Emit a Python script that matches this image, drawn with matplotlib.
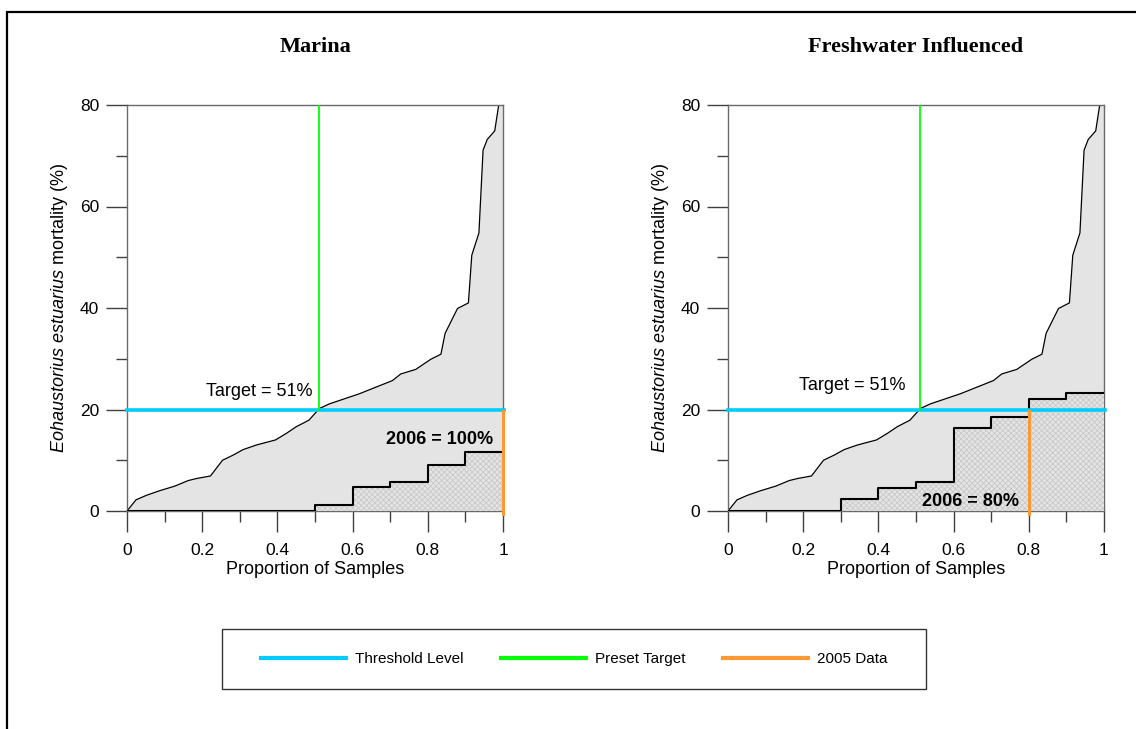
import numpy as np
import matplotlib.pyplot as plt
from matplotlib.lines import Line2D
from matplotlib.patches import Rectangle

plt.rcParams['font.family'] = ['Liberation Sans', 'DejaVu Sans']
plt.rcParams['mathtext.fontset'] = 'custom'
plt.rcParams['mathtext.it'] = 'Liberation Sans:italic'
plt.rcParams['mathtext.rm'] = 'Liberation Sans'
plt.rcParams['hatch.linewidth'] = 0.6

# reference distribution (cumulative proportion vs mortality)
ref_prop = [0, 0.024, 0.052, 0.087, 0.127, 0.163, 0.185, 0.222, 0.254, 0.282,
            0.309, 0.344, 0.395, 0.424, 0.450, 0.484, 0.496, 0.512, 0.538, 0.618,
            0.662, 0.706, 0.728, 0.768, 0.808, 0.835, 0.846, 0.879, 0.908, 0.917,
            0.936, 0.947, 0.958, 0.978, 0.989, 1.0]
ref_mort = [0, 2.2, 3.1, 4.0, 4.9, 6.0, 6.4, 6.9, 10.0, 11.0,
            12.1, 13.0, 14.0, 15.3, 16.6, 17.9, 18.9, 20.2, 21.1, 23.1,
            24.4, 25.7, 27.0, 27.9, 29.9, 30.9, 35.0, 39.9, 41.0, 50.4,
            54.8, 71.1, 73.2, 74.9, 80.2, 86.0]

# 2006 samples, sorted, one value per tenth of the samples
decile_edges = np.round(np.arange(0, 1.01, 0.1), 1)
marina_2006 = [0, 0, 0, 0, 0, 1.2, 4.7, 5.8, 9.1, 11.7]
fresh_2006 = [0, 0, 0, 2.3, 4.6, 5.8, 16.3, 18.6, 22.0, 23.2]

threshold = 20
target_prop = 0.51
panels = [
    dict(title='Marina', samples=marina_2006, prop_2005=1.0,
         result='2006 = 100%', result_xy=(0.83, 13.2), target_xy=(0.493, 22.7)),
    dict(title='Freshwater Influenced', samples=fresh_2006, prop_2005=0.8,
         result='2006 = 80%', result_xy=(0.645, 1.0), target_xy=(0.472, 23.8)),
]

c_thresh = '#00ccff'
c_target = '#00ff00'
c_2005 = '#ff9933'
fill_grey = '#e4e4e4'

W, H = 1136, 729
fig = plt.figure(figsize=(W / 100, H / 100), dpi=100)

lefts = [127, 728]
for left, p in zip(lefts, panels):
    ax = fig.add_axes([left / W, 1 - 511 / H, 376 / W, 406 / H])

    ax.fill_between(ref_prop, ref_mort, color=fill_grey, lw=0, zorder=1)
    ax.plot(ref_prop, ref_mort, color='k', lw=0.9, zorder=2)

    steps = np.append(p['samples'], p['samples'][-1])
    ax.fill_between(decile_edges, steps, step='post', facecolor=fill_grey,
                    hatch='xxxxxx', edgecolor='#c8c8c8', lw=0, zorder=3)
    ax.step(decile_edges, steps, where='post', color='k', lw=1.5, zorder=4)

    ax.plot([0, 1.003], [threshold, threshold], color=c_thresh, lw=2.6,
            zorder=5, clip_on=False)
    ax.plot([target_prop, target_prop], [threshold, 80], color=c_target,
            lw=1.3, zorder=5)
    ax.plot([p['prop_2005'], p['prop_2005']], [-0.6, threshold - 0.3],
            color=c_2005, lw=2.2, zorder=6, clip_on=False)

    ax.text(*p['target_xy'], 'Target = 51%', ha='right', va='baseline',
            fontsize=13, zorder=7)
    ax.text(*p['result_xy'], p['result'], ha='center', va='baseline',
            fontsize=13, fontweight='bold', zorder=7)

    ax.set_xlim(0, 1)
    ax.set_ylim(0, 80)
    ax.set_xticks([0, 0.2, 0.4, 0.6, 0.8, 1.0])
    ax.set_xticklabels(['0', '0.2', '0.4', '0.6', '0.8', '1'])
    ax.set_xticks(np.arange(0.1, 1.0, 0.2), minor=True)
    ax.set_yticks([0, 20, 40, 60, 80])
    ax.set_yticks([10, 30, 50, 70], minor=True)
    ax.tick_params(which='major', length=15, width=1, color='#404040',
                   labelsize=12.5)
    ax.tick_params(which='minor', length=8, width=1, color='#404040')
    ax.tick_params(axis='x', which='major', pad=8)
    ax.tick_params(axis='y', which='major', pad=5)
    for s in ax.spines.values():
        s.set_color('#6a6a6a')
        s.set_linewidth(1)

    ax.set_xlabel('Proportion of Samples', fontsize=13, labelpad=2)
    ax.set_ylabel(r'$\mathit{Eohaustorius\ estuarius}$ mortality (%)',
                  fontsize=13, labelpad=7)
    ax.set_title(p['title'], fontfamily='Liberation Serif', fontweight='bold',
                 fontsize=16, pad=38)

# legend in its own box under the panels
handles = [Line2D([], [], color=c_thresh, lw=3),
           Line2D([], [], color=c_target, lw=3),
           Line2D([], [], color=c_2005, lw=3)]
labels = ['Threshold Level', 'Preset Target', '2005 Data']
fig.legend(handles, labels, loc='center left',
           bbox_to_anchor=(247 / W, 1 - 659 / H), ncol=3, frameon=False,
           fontsize=11, handlelength=5.6, handletextpad=0.6,
           columnspacing=2.4, borderpad=0.4)
fig.add_artist(Rectangle((222 / W, 1 - 689 / H), 704 / W, 60 / H,
                         transform=fig.transFigure, fill=False, lw=1,
                         edgecolor='#333333'))

# outer frame (only top and left edges fall inside the image)
fig.add_artist(Rectangle((7 / W, -0.2), 1.2, 0.2 + 1 - 12 / H,
                         transform=fig.transFigure, fill=False, lw=1.6,
                         edgecolor='k'))

fig.savefig('out.png', dpi=100)
